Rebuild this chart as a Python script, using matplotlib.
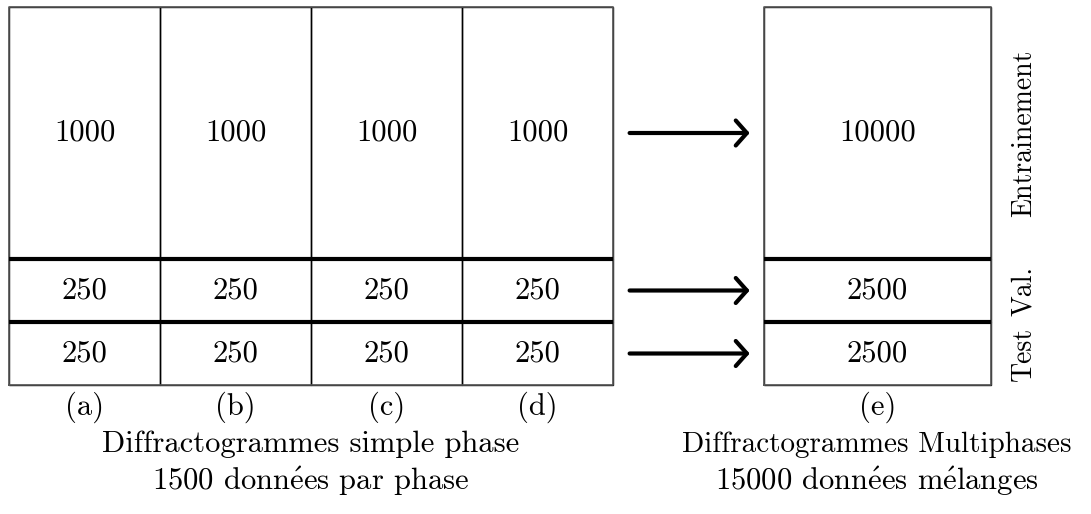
import matplotlib.pyplot as plt
import numpy as np

plt.rcParams['font.family'] = ['cmr10', 'DejaVu Serif']
plt.rcParams['mathtext.fontset'] = 'cm'
plt.rcParams['axes.formatter.use_mathtext'] = True

# data
cols_left = ['(a)', '(b)', '(c)', '(d)']
train_left = [1000, 1000, 1000, 1000]
val_left = [250, 250, 250, 250]
test_left = [250, 250, 250, 250]
col_right = '(e)'
train_right = 10000
val_right = 2500
test_right = 2500
row_names = ['Test', 'Val.', 'Entrainement']
e_acc = r'$\mathrm{\acute{e}}$'
caption_left = ['Diffractogrammes simple phase', '1500 donn' + e_acc + 'es par phase']
caption_right = ['Diffractogrammes Multiphases', '15000 donn' + e_acc + 'es m' + e_acc + 'langes']

fig = plt.figure(figsize=(10.91, 5.14), dpi=100)
ax = fig.add_axes([0, 0, 1, 1])
ax.set_xlim(-9/151, (1091-9)/151)
ax.set_ylim(-(514-385)/378, 1 + 7/378)
ax.axis('off')

fs = 22
thin = 1.0
thick = 3.0

def column(x0, w, test, val, train):
    tot = test + val + train
    fr = np.array([test, val, train]) / tot
    bottoms = np.concatenate([[0], np.cumsum(fr)[:-1]])
    ax.bar(x0, fr, w, bottom=bottoms, align='edge', fill=False,
           edgecolor='black', linewidth=thin)
    for b, f, v in zip(bottoms, fr, [test, val, train]):
        ax.text(x0 + w/2, b + f/2, str(v), ha='center', va='center', fontsize=fs)
    return bottoms, fr

# left table
for i in range(len(cols_left)):
    bl, frl = column(i, 1, test_left[i], val_left[i], train_left[i])
    ax.text(i + 0.5, -0.06, cols_left[i], ha='center', va='center', fontsize=fs)
nl = len(cols_left)
ax.plot([0, nl, nl, 0, 0], [0, 0, 1, 1, 0], color='#555555', lw=1.2)
for b in bl[1:]:
    ax.plot([0, nl], [b, b], color='black', lw=thick, solid_capstyle='butt')

# right table
xr, wr = 5.0, 1.5
br, frr = column(xr, wr, test_right, val_right, train_right)
ax.plot([xr, xr+wr, xr+wr, xr, xr], [0, 0, 1, 1, 0], color='#555555', lw=1.2)
for b in br[1:]:
    ax.plot([xr, xr+wr], [b, b], color='black', lw=thick, solid_capstyle='butt')
ax.text(xr + wr/2, -0.06, col_right, ha='center', va='center', fontsize=fs)

# arrows
for b, f in zip(br, frr):
    y = b + f/2
    ax.annotate('', xy=(4.905, y), xytext=(4.11, y),
                arrowprops=dict(arrowstyle='->,head_length=0.8,head_width=0.9',
                                lw=3, color='black', shrinkA=0, shrinkB=0))

# row labels
for b, f, name in zip(br, frr, row_names):
    ax.text(6.72, b + f/2, name, rotation=90, ha='center', va='center', fontsize=20)

# captions
ax.text(nl/2, -0.158, caption_left[0], ha='center', va='center', fontsize=fs)
ax.text(nl/2, -0.255, caption_left[1], ha='center', va='center', fontsize=fs)
ax.text(xr + wr/2, -0.158, caption_right[0], ha='center', va='center', fontsize=21)
ax.text(xr + wr/2, -0.255, caption_right[1], ha='center', va='center', fontsize=fs)

fig.savefig('out.png', dpi=100)
